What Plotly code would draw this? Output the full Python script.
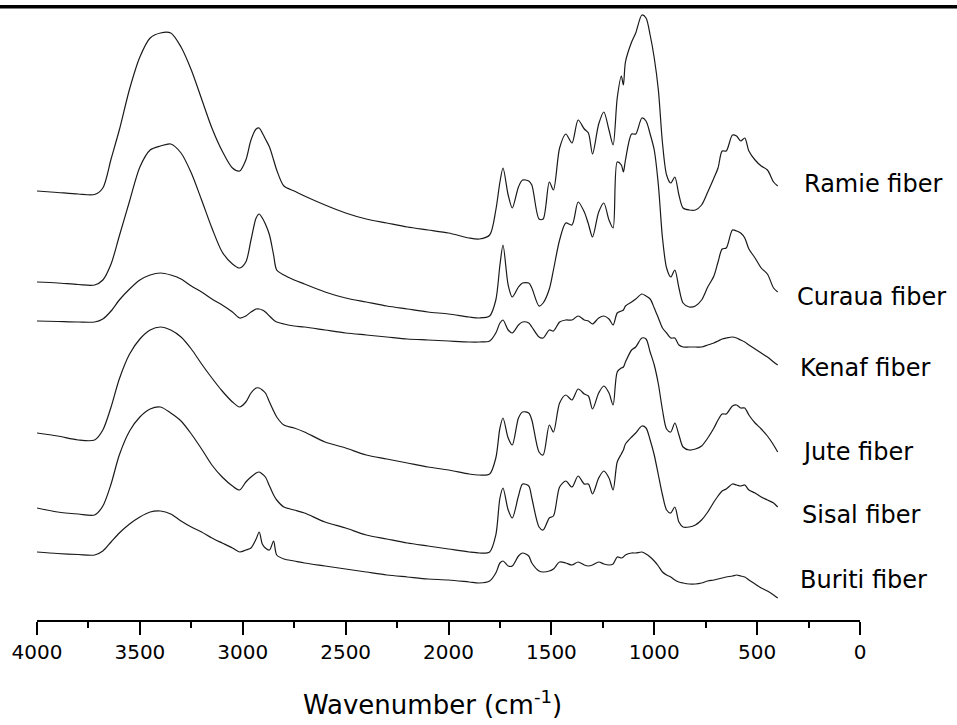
import plotly.graph_objects as go

# FTIR spectra of natural fibres, stacked with vertical offsets (arbitrary units)
wavenumber = [4000, 3900, 3800, 3720, 3680, 3640, 3600, 3550, 3500, 3450,
              3400, 3350, 3300, 3250, 3200, 3150, 3100, 3050, 3015, 2985,
              2960, 2935, 2920, 2905, 2890, 2870, 2850, 2835, 2800, 2750,
              2700, 2600, 2500, 2400, 2300, 2200, 2100, 2000, 1900, 1850,
              1800, 1770, 1750, 1735, 1710, 1690, 1660, 1640, 1610, 1595,
              1560, 1540, 1510, 1490, 1460, 1430, 1400, 1370, 1340, 1320,
              1300, 1270, 1245, 1220, 1200, 1180, 1160, 1150, 1140, 1110,
              1090, 1060, 1040, 1020, 1000, 980, 960, 940, 920, 900,
              880, 860, 830, 800, 770, 740, 710, 690, 670, 650,
              620, 600, 580, 560, 540, 510, 480, 450, 420, 400]

ramie = [429, 427.5, 426, 425.5, 432, 461, 490, 531, 563, 582,
         587, 587, 573, 550, 521, 492, 469, 452, 449, 460,
         480, 491, 492, 487, 481, 473, 460, 450, 434, 429,
         424, 415, 407, 401, 397, 393, 390, 387, 382, 381,
         385, 410, 438, 452, 425, 412, 433, 440, 439, 435,
         401, 401, 438, 430, 472, 486, 477, 500, 491, 487,
         466, 496, 508, 490, 475, 522, 544, 535, 558, 578,
         587, 605, 602, 585, 562, 530, 477, 445, 437, 443,
         425, 412, 410, 410, 415, 428, 442, 452, 469, 469,
         485, 484, 479, 482, 469, 460, 454, 450, 438, 434]

curaua = [338, 337, 335.5, 335, 340, 356, 384, 419, 453, 470,
          474, 476, 467, 447, 420, 392, 368, 356, 352, 358,
          380, 402, 406, 402, 396, 385, 365, 350, 345, 340,
          336, 328, 322, 318, 314, 311, 308, 306, 303, 302,
          304, 320, 355, 375, 335, 323, 333, 337, 337, 332,
          314, 317, 331, 350, 380, 397, 395, 418, 408, 396,
          383, 408, 417, 400, 392, 458, 455, 448, 460, 486,
          486, 502, 499, 486, 470, 435, 382, 352, 343, 350,
          332, 317, 313, 314, 320, 333, 344, 358, 371, 372,
          390, 389, 387, 382, 371, 362, 352, 346, 332, 328]

kenaf = [299, 298.5, 298, 298, 301, 309, 320, 331, 340, 345,
         347, 345, 341, 334, 328, 321, 315, 308, 302, 304,
         308, 311, 311, 310, 308, 304, 300, 298, 296, 294,
         293, 290, 287, 285, 283, 281, 280, 279, 278, 278,
         279, 287, 297, 300, 290, 287, 295, 298, 297, 293,
         283, 282, 290, 289, 298, 300, 300, 304, 300, 299,
         296, 302, 304, 301, 295, 307, 309, 310, 314, 318,
         321, 326, 324, 321, 312, 302, 292, 287, 282, 282,
         275, 273, 273, 273, 273, 275, 277, 279, 281, 282,
         283, 282, 280, 278, 275, 271, 267, 263, 258, 255]

jute = [187, 184, 180, 180, 190, 213, 241, 266, 281, 290,
        293, 290, 283, 271, 256, 242, 229, 218, 213, 218,
        227, 232, 232, 230, 227, 218, 209, 203, 195, 192,
        188, 178, 172, 165, 161, 157, 153, 150, 146, 145,
        146, 162, 192, 202, 182, 175, 202, 208, 207, 200,
        168, 165, 195, 188, 217, 225, 220, 231, 226, 224,
        211, 227, 234, 227, 215, 248, 252, 253, 258, 270,
        273, 282, 281, 268, 255, 236, 210, 191, 188, 197,
        185, 173, 170, 171, 174, 182, 192, 200, 206, 206,
        214, 215, 212, 212, 205, 197, 191, 184, 175, 168]

sisal = [112, 108, 106, 105, 114, 136, 165, 189, 203, 211,
         213, 207, 199, 186, 171, 155, 143, 134, 130, 138,
         143, 147, 148, 146, 143, 134, 125, 120, 113, 110,
         107, 98, 92, 85, 81, 77, 74, 71, 68, 67,
         68, 85, 122, 132, 110, 102, 124, 136, 134, 122,
         93, 90, 102, 104, 133, 139, 133, 144, 136, 136,
         126, 142, 149, 142, 130, 158, 166, 170, 176, 183,
         187, 194, 192, 180, 165, 145, 125, 110, 107, 113,
         98, 93, 93, 95, 100, 108, 118, 124, 129, 131,
         136, 135, 134, 135, 130, 127, 123, 120, 117, 113]

buriti = [68, 66.5, 65.5, 65, 69, 78, 87, 96, 103, 108,
          109, 106, 99, 93, 88, 82, 77, 72, 68, 70,
          72, 81, 88, 76, 72, 70, 79, 65, 61, 59,
          57, 54, 51, 48, 45, 43, 41, 40, 38, 37,
          39, 47, 57, 59, 54, 54, 64, 67, 64, 57,
          49, 48, 49, 51, 58, 57, 55, 58, 55, 54,
          55, 58, 56, 55, 56, 63, 62, 63, 65, 67,
          67, 68, 66, 63, 59, 54, 48, 45, 43, 40,
          38, 37, 36, 36, 37, 39, 40, 41, 42, 43,
          44, 45, 44, 43, 40, 36, 32, 29, 25, 22]

fiber_names = ["Ramie fiber", "Curaua fiber", "Kenaf fiber",
               "Jute fiber", "Sisal fiber", "Buriti fiber"]
spectra = [ramie, curaua, kenaf, jute, sisal, buriti]

x_ticks = [4000, 3500, 3000, 2500, 2000, 1500, 1000, 500, 0]

W, H = 957, 725
ML, MR, MT, MB = 37, 97, 0, 105
PW, PH = W - ML - MR, H - MT - MB

FONT = "DejaVu Sans"

fig = go.Figure()
for name, ys in zip(fiber_names, spectra):
    fig.add_trace(go.Scatter(
        x=wavenumber, y=ys, mode="lines", name=name,
        line=dict(color="#1a1a1a", width=1.2, shape="spline", smoothing=0.8),
        showlegend=False, hoverinfo="skip"))


def px_x(px):
    return (px - ML) / PW


def px_y(py):
    return (H - MB - py) / PH


# spectrum names, placed to the right of each curve
label_pos = [(802, 184), (795, 297), (798, 368), (800, 452), (800, 515), (798, 580)]
for name, (lx, ly) in zip(fiber_names, label_pos):
    fig.add_annotation(text=name, xref="paper", yref="paper",
                       x=px_x(lx), y=px_y(ly), xanchor="left", yanchor="middle",
                       showarrow=False, font=dict(family=FONT, size=24, color="black"))

# axis title
fig.add_annotation(text="Wavenumber (cm<sup>-1</sup>)", xref="paper", yref="paper",
                   x=px_x(432), y=px_y(703), xanchor="center", yanchor="middle",
                   showarrow=False, font=dict(family=FONT, size=26, color="black"))

# rule across the top of the figure
fig.add_shape(type="line", xref="paper", yref="paper",
              x0=px_x(0), x1=px_x(W), y0=px_y(6.7), y1=px_y(6.7),
              line=dict(color="black", width=3.5))

fig.update_layout(
    width=W, height=H,
    margin=dict(l=ML, r=MR, t=MT, b=MB),
    paper_bgcolor="white", plot_bgcolor="white",
    xaxis=dict(range=[4000, 0], tickmode="array", tickvals=x_ticks,
               ticktext=[str(v) for v in x_ticks],
               ticks="outside", ticklen=13, tickwidth=2, tickcolor="black",
               showline=True, linewidth=2, linecolor="black",
               showgrid=False, zeroline=False,
               tickfont=dict(family=FONT, size=20, color="black"),
               minor=dict(ticks="outside", ticklen=6, tickwidth=2,
                          tickcolor="black", tickmode="linear", tick0=0, dtick=250)),
    yaxis=dict(range=[0, 620], visible=False, showgrid=False, zeroline=False),
)

fig.write_html("out.html")
